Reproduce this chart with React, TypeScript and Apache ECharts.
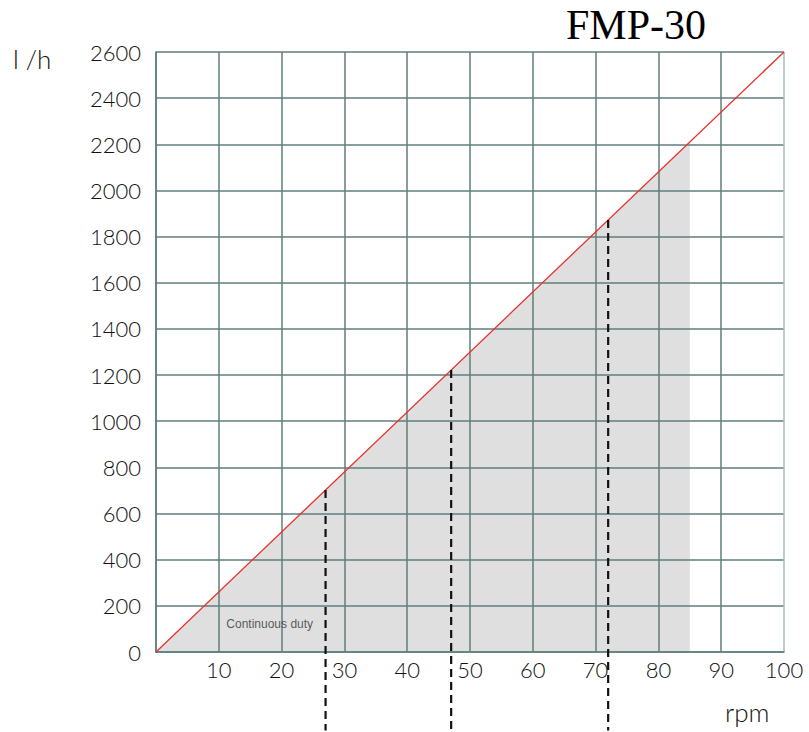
import React, { useEffect, useRef } from "react";
import * as echarts from "echarts";

const title = "FMP-30";
const yName = "l /h";
const xName = "rpm";
const xRange = [0, 100];
const yRange = [0, 2600];
const flowLine = [
  [0, 0],
  [100, 2600],
];
const dutyArea = [
  [0, 0],
  [85, 2210],
];
const dashX = [27, 47, 72];
const dashBottom = -340;
const slope = 26;
const dutyLabel = "Continuous duty";
const dutyLabelPos = [11.2, 120];

const gridColor = "#5f7e7d";
const labelFont = "Lato, 'DejaVu Sans', sans-serif";

export default function App() {
  const ref = useRef<HTMLDivElement>(null);
  useEffect(() => {
    const chart = echarts.init(ref.current!, null, { renderer: "svg" });
    const dashSeries = dashX.map((x) => ({
      type: "line",
      data: [
        [x, x * slope],
        [x, dashBottom],
      ],
      clip: false,
      symbol: "none",
      z: 6,
      lineStyle: { color: "#111", width: 2.2, type: [8, 5] },
    }));
    const xColors = Array.from({ length: 11 }, (_, i) => (i === 10 ? "#a7bbbb" : gridColor));
    chart.setOption({
      animation: false,
      grid: { left: 156, top: 52, right: 25, bottom: 80, containLabel: false },
      xAxis: {
        type: "value",
        min: xRange[0],
        max: xRange[1],
        interval: 10,
        z: 3,
        axisLine: { show: true, lineStyle: { color: gridColor, width: 1.5 } },
        axisTick: { show: false },
        splitLine: { show: true, lineStyle: { color: xColors, width: 1.5 } },
        axisLabel: {
          margin: 6,
          color: "#111",
          fontSize: 22,
          fontWeight: 300,
          fontFamily: labelFont,
          formatter: (v: number) => (v === 0 ? "" : String(v)),
        },
      },
      yAxis: {
        type: "value",
        min: yRange[0],
        max: yRange[1],
        interval: 200,
        z: 3,
        axisLine: { show: true, lineStyle: { color: gridColor, width: 1.5 } },
        axisTick: { show: false },
        splitLine: { show: true, lineStyle: { color: gridColor, width: 1.5 } },
        axisLabel: {
          margin: 15,
          color: "#111",
          fontSize: 22,
          fontWeight: 300,
          fontFamily: labelFont,
          formatter: (v: number) => String(v),
        },
      },
      series: [
        {
          type: "line",
          data: dutyArea,
          symbol: "none",
          z: 1,
          lineStyle: { width: 0 },
          areaStyle: { color: "#dfdfdf", opacity: 1 },
        },
        {
          type: "line",
          data: flowLine,
          symbol: "none",
          z: 5,
          lineStyle: { color: "#e8302a", width: 1.3 },
        },
        ...dashSeries,
        {
          type: "scatter",
          data: [dutyLabelPos],
          symbolSize: 0,
          z: 5,
          itemStyle: { color: "#333" },
          label: {
            show: true,
            formatter: dutyLabel,
            position: "right",
            distance: 0,
            color: "#333",
            fontSize: 12,
            fontFamily: "'Liberation Sans', Arial, sans-serif",
          },
        },
      ],
      graphic: [
        {
          type: "text",
          x: 636,
          y: 25,
          style: {
            text: title,
            font: "42px 'Liberation Serif', 'Times New Roman', serif",
            fill: "#000",
            textAlign: "center",
            textVerticalAlign: "middle",
          },
        },
        {
          type: "text",
          x: 13,
          y: 59,
          style: {
            text: yName,
            font: "300 26px " + labelFont,
            fill: "#111",
            textAlign: "left",
            textVerticalAlign: "middle",
          },
        },
        {
          type: "text",
          x: 725,
          y: 712,
          style: {
            text: xName,
            font: "300 26px " + labelFont,
            fill: "#111",
            textAlign: "left",
            textVerticalAlign: "middle",
          },
        },
      ],
    });
    return () => chart.dispose();
  }, []);
  return (
    <div
      ref={ref}
      style={{ position: "fixed", left: 0, top: 0, width: 809, height: 732, background: "#fff" }}
    />
  );
}
